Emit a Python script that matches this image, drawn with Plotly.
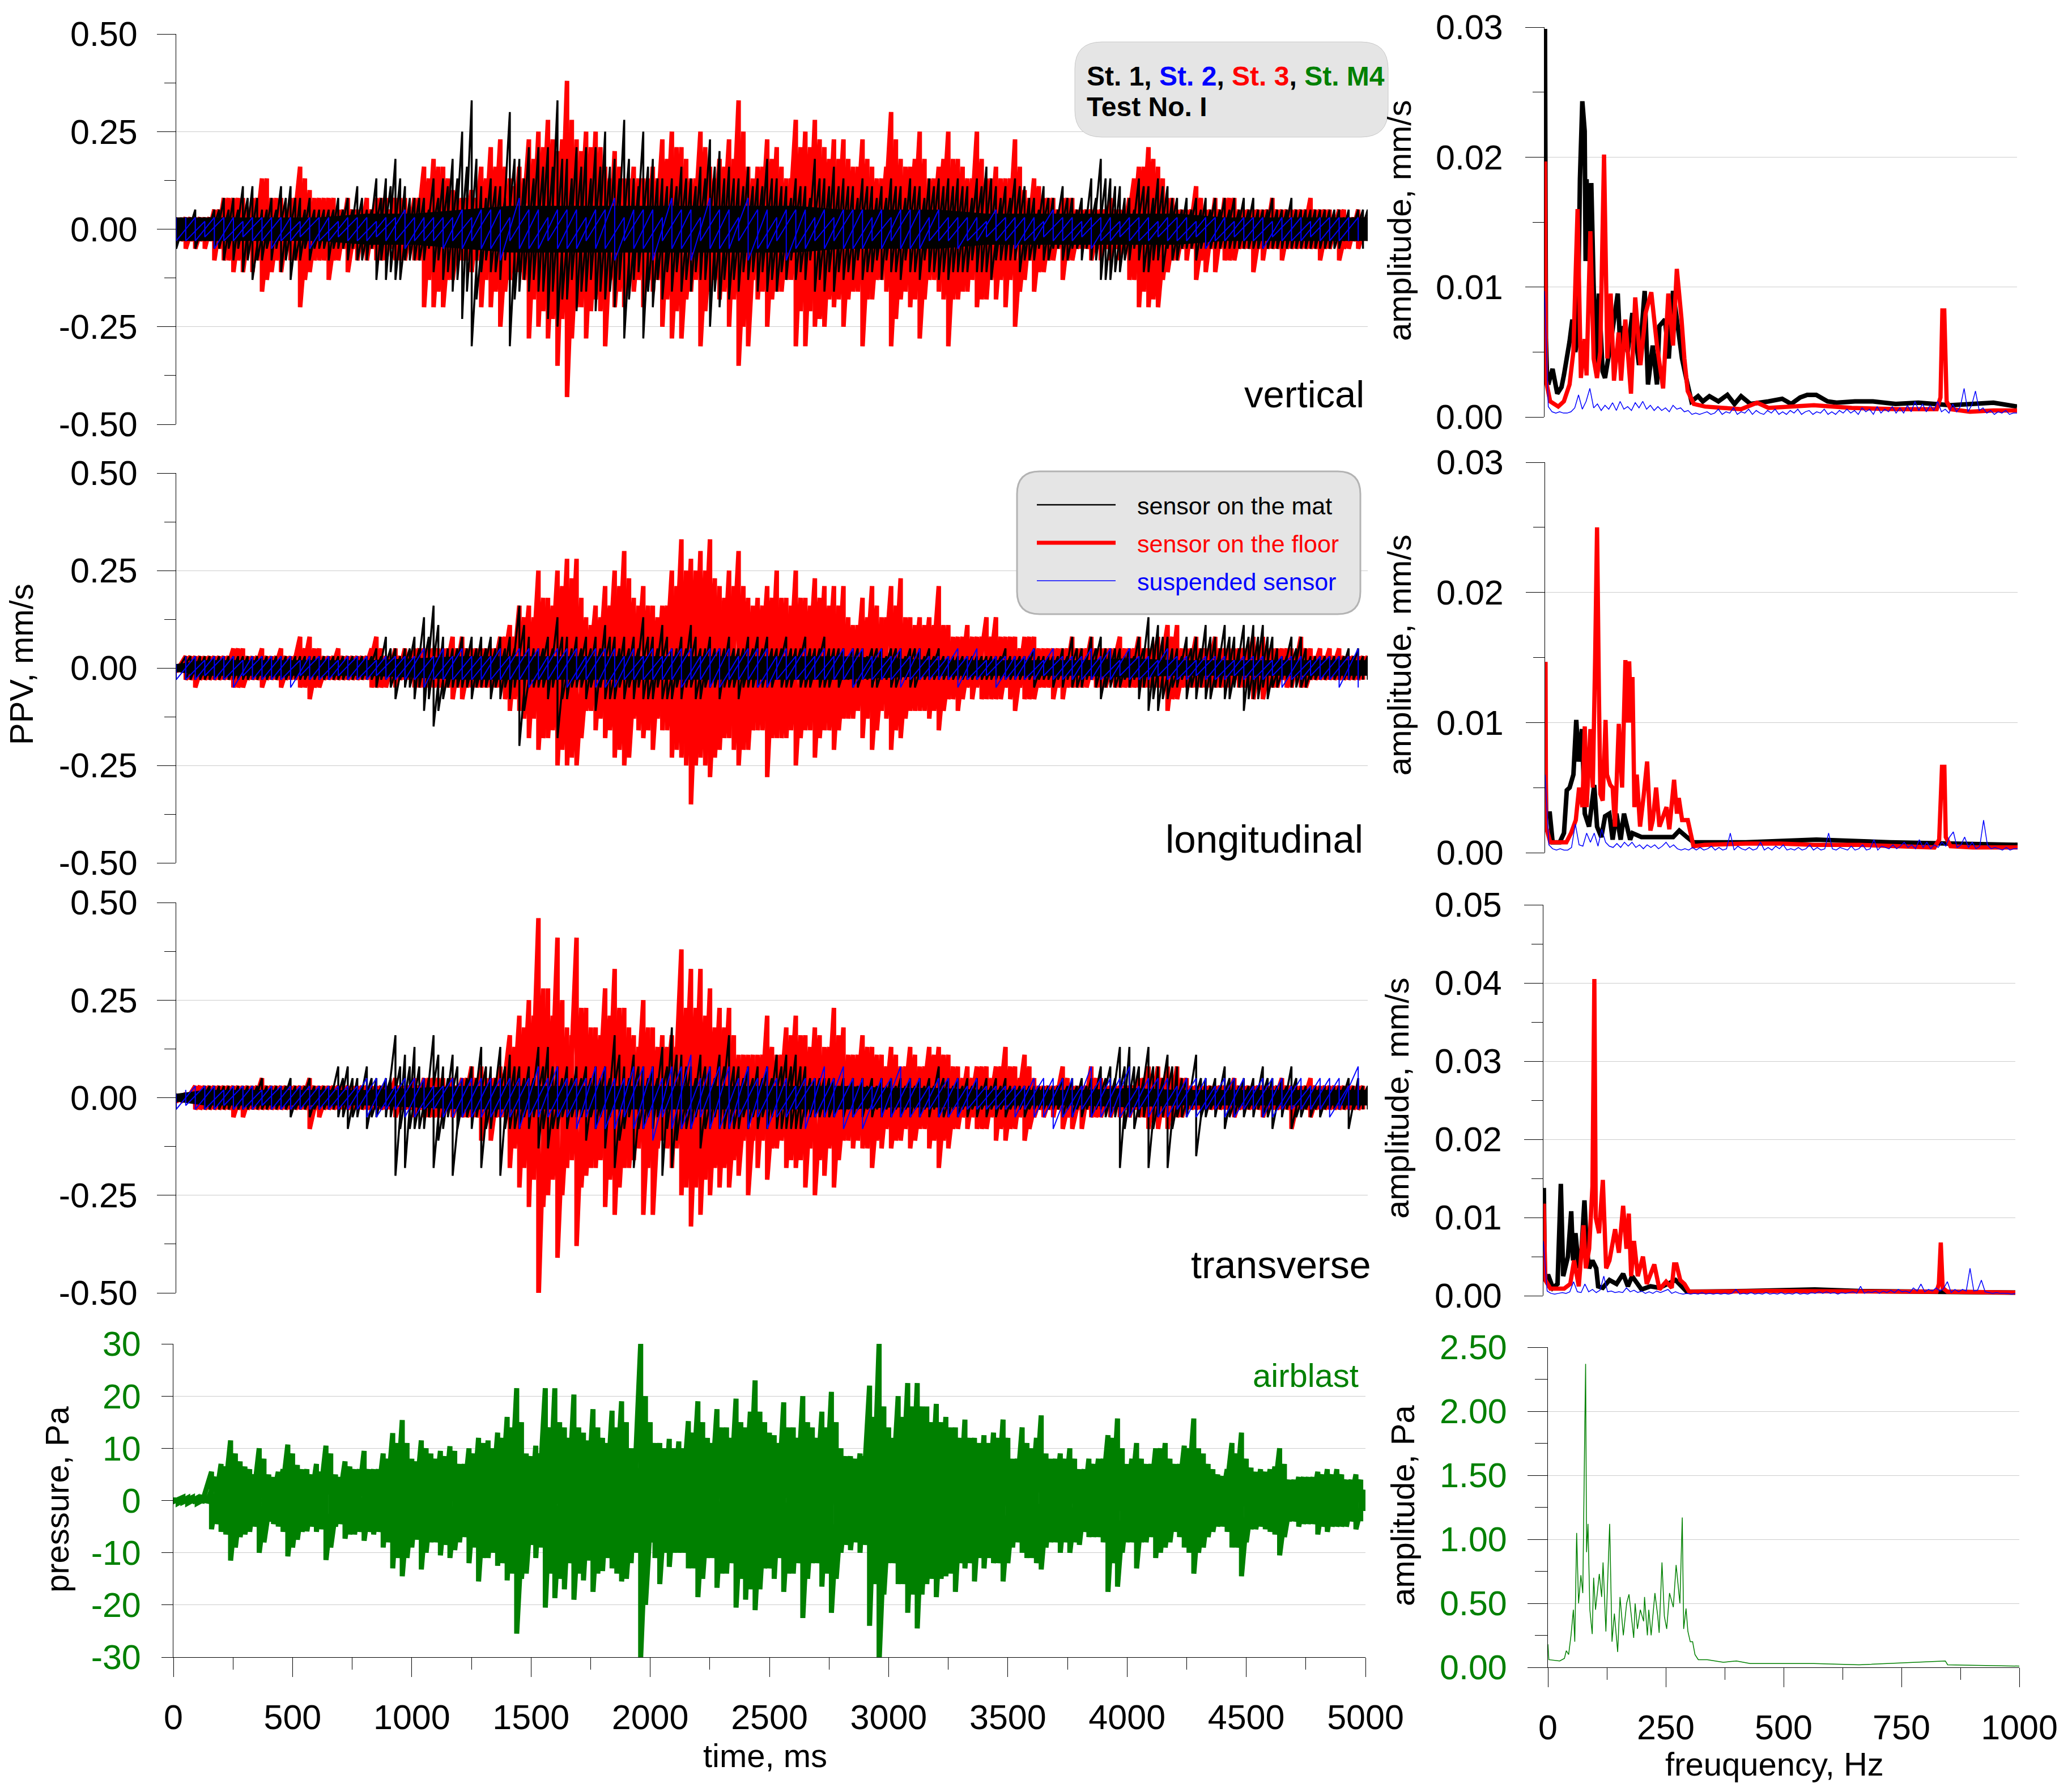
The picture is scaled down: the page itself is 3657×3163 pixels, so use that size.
import plotly.graph_objects as go

W, H = 3657, 3163

# time grids, ms
time_ms = list(range(0, 5001, 40))
mid_time_ms = list(range(20, 5000, 40))
blue_time_ms = list(range(0, 5000, 80))
blue_mid_time_ms = list(range(40, 4960, 80))
core_time_ms = [0, 120, 200, 400, 600, 800, 1000, 1200, 1400, 1600, 1800, 2000, 2200, 2400,
                2600, 2800, 3000, 3200, 3400, 3600, 3800, 4000, 4200, 4400, 4600, 4800, 5000]

# vertical component, peaks (mm/s)
vert_red_up = [.03, .03, .03, .03, .05, .08, .08, .08, .08, .13,
               .08, .08, .08, .16, .10, .08, .08, .05, .08, .05,
               .08, .08, .08, .08, .08, .08, .16, .18, .16, .10,
               .08, .10, .16, .21, .23, .13, .16, .23, .25, .28,
               .20, .38, .23, .25, .25, .16, .20, .13, .16, .13,
               .16, .23, .25, .21, .13, .25, .16, .18, .23, .33,
               .16, .16, .23, .21, .13, .28, .25, .28, .21, .23,
               .23, .16, .23, .16, .13, .30, .18, .16, .25, .13,
               .16, .25, .18, .13, .25, .13, .16, .13, .23, .10,
               .13, .08, .08, .08, .08, .05, .05, .05, .08, .05,
               .08, .16, .21, .16, .08, .05, .05, .11, .05, .08,
               .08, .08, .05, .05, .05, .08, .05, .05, .05, .08,
               .05, .05, .05, .03, .05, .03]
vert_red_low = [-.03, -.05, -.05, -.05, -.08, -.08, -.11, -.11, -.11, -.16,
                -.11, -.11, -.08, -.20, -.11, -.08, -.13, -.08, -.11, -.08,
                -.08, -.08, -.08, -.08, -.08, -.08, -.20, -.20, -.20, -.13,
                -.08, -.11, -.20, -.20, -.25, -.13, -.11, -.28, -.25, -.28,
                -.35, -.43, -.20, -.28, -.18, -.30, -.20, -.20, -.16, -.20,
                -.16, -.25, -.28, -.28, -.16, -.30, -.16, -.18, -.25, -.35,
                -.30, -.18, -.25, -.16, -.13, -.30, -.30, -.25, -.25, -.20,
                -.25, -.16, -.30, -.18, -.13, -.30, -.18, -.20, -.28, -.13,
                -.16, -.30, -.18, -.16, -.20, -.18, -.18, -.20, -.25, -.13,
                -.16, -.11, -.08, -.13, -.08, -.05, -.08, -.08, -.08, -.08,
                -.13, -.20, -.20, -.20, -.11, -.08, -.08, -.13, -.11, -.11,
                -.08, -.08, -.05, -.11, -.08, -.05, -.08, -.05, -.05, -.05,
                -.08, -.05, -.08, -.05, -.05, -.03]
vert_red_mid = [.03, .03, .03, .03, .05, .08, .08, .05, .08, .13,
                .08, .05, .08, .13, .08, .08, .08, .05, .05, .05,
                .05, .08, .05, .08, .05, .08, .13, .16, .13, .08,
                .08, .08, .13, .16, .16, .11, .13, .18, .21, .23,
                .23, .28, .20, .21, .21, .13, .16, .13, .13, .13,
                .13, .18, .21, .18, .13, .21, .13, .16, .18, .25,
                .13, .16, .18, .16, .13, .21, .21, .23, .18, .18,
                .18, .16, .18, .13, .16, .23, .16, .18, .18, .13,
                .18, .18, .16, .13, .18, .13, .13, .13, .16, .08,
                .11, .08, .05, .08, .05, .05, .05, .05, .05, .05,
                .13, .16, .18, .13, .08, .05, .05, .08, .05, .05,
                .08, .05, .05, .05, .05, .05, .05, .05, .05, .05,
                .05, .03, .05, .03, .03]
vert_black_up = [.03, .03, .05, .03, .05, .08, .08, .11, .11, .05,
                 .08, .11, .11, .08, .08, .05, .05, .08, .08, .11,
                 .05, .13, .13, .18, .11, .08, .08, .13, .13, .18,
                 .25, .33, .11, .13, .11, .30, .18, .21, .21, .21,
                 .33, .18, .21, .21, .21, .25, .18, .28, .13, .25,
                 .18, .13, .13, .16, .13, .16, .23, .20, .16, .13,
                 .16, .13, .18, .13, .11, .13, .11, .18, .13, .16,
                 .13, .11, .13, .11, .11, .13, .11, .13, .11, .13,
                 .13, .13, .13, .11, .13, .16, .11, .11, .13, .11,
                 .08, .11, .08, .11, .08, .08, .13, .18, .13, .11,
                 .08, .13, .11, .13, .11, .08, .08, .08, .08, .08,
                 .08, .08, .08, .08, .05, .08, .05, .08, .05, .05,
                 .05, .05, .05, .05, .05, .05]
vert_black_low = [-.05, -.03, -.05, -.03, -.05, -.08, -.08, -.11, -.13, -.08,
                  -.08, -.11, -.13, -.08, -.08, -.05, -.08, -.05, -.08, -.08,
                  -.08, -.13, -.13, -.13, -.08, -.08, -.08, -.11, -.13, -.16,
                  -.23, -.30, -.11, -.11, -.13, -.30, -.16, -.16, -.16, -.23,
                  -.25, -.18, -.21, -.16, -.21, -.18, -.20, -.28, -.13, -.28,
                  -.20, -.18, -.16, -.16, -.16, -.13, -.25, -.20, -.18, -.16,
                  -.13, -.16, -.16, -.16, -.13, -.13, -.13, -.16, -.16, -.16,
                  -.13, -.13, -.13, -.11, -.13, -.11, -.13, -.11, -.13, -.11,
                  -.13, -.13, -.11, -.11, -.11, -.11, -.08, -.08, -.08, -.08,
                  -.08, -.08, -.05, -.08, -.05, -.08, -.08, -.13, -.13, -.11,
                  -.08, -.08, -.11, -.08, -.05, -.08, -.05, -.08, -.05, -.05,
                  -.05, -.05, -.05, -.05, -.05, -.05, -.05, -.05, -.05, -.05,
                  -.05, -.05, -.05, -.03, -.03, -.03]
vert_black_mid = [.03, .03, .03, .03, .05, .05, .05, .08, .08, .05,
                  .05, .08, .08, .05, .05, .05, .05, .05, .05, .08,
                  .05, .08, .11, .13, .08, .08, .05, .08, .11, .13,
                  .16, .18, .08, .11, .08, .18, .13, .13, .16, .16,
                  .18, .13, .16, .13, .16, .16, .13, .18, .11, .16,
                  .13, .11, .11, .13, .11, .13, .16, .13, .13, .11,
                  .11, .11, .13, .11, .08, .11, .08, .13, .11, .11,
                  .11, .08, .11, .08, .08, .11, .08, .11, .08, .11,
                  .11, .11, .11, .08, .11, .13, .08, .08, .11, .08,
                  .05, .08, .05, .08, .05, .05, .08, .13, .11, .08,
                  .05, .11, .08, .11, .08, .05, .05, .05, .05, .05,
                  .05, .05, .05, .05, .05, .05, .05, .05, .05, .05,
                  .05, .05, .03, .03, .05]
vert_blue_up = [.03, .03, .03, .03, .03, .03, .03, .03, .03, .03,
                .03, .03, .05, .03, .03, .05, .05, .05, .08, .05,
                .05, .05, .05, .08, .05, .05, .08, .05, .08, .05,
                .08, .05, .05, .05, .05, .05, .05, .05, .05, .05,
                .05, .03, .03, .05, .03, .03, .05, .03, .03, .03,
                .03, .03, .03, .03, .03, .03, .03, .03, .03, .03,
                .03, .03, .03]
vert_blue_low = [-.03, -.03, -.05, -.03, -.03, -.05, -.03, -.05, -.03, -.03,
                 -.03, -.03, -.05, -.03, -.05, -.05, -.05, -.08, -.05, -.05,
                 -.05, -.05, -.05, -.08, -.05, -.08, -.05, -.08, -.05, -.05,
                 -.08, -.05, -.08, -.05, -.05, -.05, -.05, -.05, -.05, -.05,
                 -.03, -.05, -.03, -.03, -.05, -.03, -.03, -.03, -.05, -.03,
                 -.03, -.03, -.03, -.03, -.05, -.03, -.03, -.05, -.03, -.03,
                 -.03, -.03, -.03]
vert_blue_mid = [.03, .02, .03, .02, .03, .03, .02, .03, .02, .03, .02, .03, .03, .03, .03, .03,
                 .05, .03, .05, .03, .05, .03, .05, .03, .05, .03, .05, .03, .05, .03, .05, .03,
                 .05, .03, .03, .05, .03, .03, .05, .03, .03, .03, .02, .03, .03, .02, .03, .02,
                 .03, .02, .03, .02, .03, .02, .03, .02, .03, .02, .03, .02, .03, .03]
vert_black_core = [.03, .03, .03, .03, .03, .04, .04, .05, .06, .06, .06, .06, .06, .06,
                   .06, .05, .05, .05, .04, .04, .04, .04, .04, .03, .03, .03, .03]

# longitudinal component
long_red_up = [.01, .03, .03, .03, .03, .03, .05, .05, .03, .05,
               .03, .05, .03, .08, .08, .05, .03, .05, .03, .03,
               .03, .08, .03, .05, .05, .05, .05, .05, .05, .08,
               .08, .05, .05, .05, .08, .11, .16, .16, .25, .18,
               .25, .28, .28, .13, .16, .21, .25, .30, .18, .21,
               .16, .16, .25, .33, .28, .30, .33, .21, .25, .30,
               .18, .18, .21, .25, .18, .25, .18, .23, .21, .21,
               .21, .11, .18, .21, .13, .21, .23, .13, .13, .13,
               .21, .11, .08, .11, .08, .13, .13, .08, .08, .08,
               .08, .05, .05, .05, .08, .05, .08, .05, .05, .08,
               .05, .08, .05, .08, .11, .11, .05, .08, .05, .08,
               .05, .05, .05, .08, .08, .05, .05, .05, .08, .05,
               .05, .05, .05, .03, .03, .03]
long_red_low = [-.01, -.03, -.05, -.03, -.03, -.03, -.05, -.05, -.03, -.05,
                -.03, -.05, -.03, -.05, -.08, -.05, -.03, -.03, -.03, -.03,
                -.03, -.05, -.05, -.05, -.03, -.05, -.05, -.05, -.05, -.08,
                -.08, -.05, -.05, -.05, -.05, -.11, -.11, -.18, -.21, -.18,
                -.25, -.25, -.25, -.11, -.16, -.18, -.23, -.25, -.13, -.18,
                -.21, -.16, -.23, -.23, -.35, -.23, -.28, -.21, -.18, -.25,
                -.21, -.16, -.28, -.18, -.18, -.25, -.16, -.23, -.16, -.21,
                -.13, -.13, -.18, -.21, -.11, -.21, -.18, -.11, -.11, -.13,
                -.16, -.08, -.11, -.05, -.05, -.08, -.08, -.05, -.11, -.08,
                -.08, -.05, -.08, -.08, -.05, -.05, -.03, -.05, -.03, -.05,
                -.05, -.05, -.05, -.05, -.11, -.08, -.05, -.05, -.05, -.05,
                -.05, -.03, -.05, -.08, -.08, -.05, -.03, -.05, -.05, -.03,
                -.03, -.03, -.03, -.03, -.03, -.01]
long_red_mid = [.01, .03, .03, .03, .03, .03, .05, .03, .03, .03,
                .03, .03, .03, .05, .05, .03, .03, .03, .03, .03,
                .05, .05, .03, .03, .03, .05, .05, .05, .05, .05,
                .05, .05, .05, .05, .08, .08, .13, .13, .18, .16,
                .21, .23, .18, .11, .13, .16, .21, .23, .16, .16,
                .13, .16, .21, .25, .25, .25, .23, .18, .21, .21,
                .16, .16, .18, .18, .16, .18, .16, .18, .16, .16,
                .13, .11, .13, .16, .13, .16, .13, .11, .11, .11,
                .11, .08, .08, .08, .08, .08, .08, .08, .05, .08,
                .05, .05, .05, .05, .05, .05, .05, .05, .05, .05,
                .05, .05, .05, .05, .08, .05, .05, .05, .05, .05,
                .05, .05, .05, .05, .05, .05, .05, .03, .05, .03,
                .03, .03, .03, .03, .03]
long_black_up = [.01, .03, .03, .03, .03, .03, .03, .03, .03, .03,
                 .03, .03, .03, .03, .03, .03, .03, .03, .03, .03,
                 .03, .05, .08, .05, .05, .08, .13, .16, .08, .05,
                 .08, .08, .08, .08, .08, .08, .16, .08, .05, .08,
                 .13, .08, .08, .08, .08, .11, .08, .08, .08, .13,
                 .08, .11, .05, .08, .11, .05, .08, .05, .08, .05,
                 .08, .08, .08, .05, .08, .05, .08, .05, .08, .05,
                 .05, .05, .05, .05, .05, .05, .05, .05, .05, .05,
                 .05, .03, .03, .03, .03, .03, .03, .05, .03, .03,
                 .05, .03, .03, .05, .08, .05, .08, .08, .05, .05,
                 .05, .08, .13, .11, .08, .05, .08, .08, .11, .08,
                 .11, .08, .11, .11, .11, .08, .03, .08, .08, .03,
                 .03, .03, .03, .05, .05, .03]
long_black_low = [-.01, -.03, -.03, -.03, -.03, -.03, -.03, -.03, -.03, -.03,
                  -.03, -.03, -.03, -.03, -.03, -.03, -.03, -.03, -.03, -.03,
                  -.03, -.05, -.03, -.08, -.05, -.08, -.11, -.15, -.08, -.05,
                  -.05, -.08, -.05, -.08, -.08, -.08, -.20, -.05, -.05, -.08,
                  -.18, -.08, -.05, -.08, -.11, -.08, -.08, -.08, -.08, -.08,
                  -.08, -.08, -.08, -.08, -.05, -.08, -.05, -.08, -.05, -.08,
                  -.05, -.05, -.05, -.03, -.05, -.03, -.05, -.03, -.05, -.03,
                  -.03, -.05, -.03, -.05, -.03, -.05, -.03, -.05, -.03, -.03,
                  -.03, -.03, -.03, -.03, -.03, -.03, -.03, -.03, -.03, -.03,
                  -.05, -.03, -.05, -.05, -.05, -.05, -.03, -.08, -.05, -.05,
                  -.05, -.08, -.11, -.11, -.08, -.05, -.08, -.08, -.08, -.05,
                  -.08, -.05, -.11, -.08, -.05, -.05, -.03, -.05, -.05, -.03,
                  -.03, -.03, -.03, -.03, -.03, -.03]
long_black_mid = [.01, .03, .03, .03, .03, .03, .03, .03, .03, .03,
                  .03, .03, .03, .03, .03, .03, .03, .03, .03, .03,
                  .03, .03, .05, .03, .05, .05, .08, .11, .05, .05,
                  .05, .05, .05, .05, .05, .05, .11, .05, .05, .05,
                  .08, .05, .05, .05, .05, .08, .05, .05, .05, .08,
                  .05, .08, .05, .05, .08, .05, .05, .05, .05, .05,
                  .05, .05, .05, .05, .05, .05, .05, .05, .05, .05,
                  .03, .05, .03, .05, .03, .05, .03, .05, .03, .03,
                  .03, .03, .03, .03, .03, .03, .03, .03, .03, .03,
                  .03, .03, .03, .03, .05, .03, .05, .05, .05, .03,
                  .03, .05, .08, .08, .05, .03, .05, .05, .08, .05,
                  .08, .05, .08, .08, .08, .05, .03, .05, .05, .03,
                  .03, .03, .03, .03, .03]
long_blue_up = [.01, .03, .03, .03, .03, .03, .03, .03, .03, .03,
                .03, .03, .03, .05, .05, .05, .03, .05, .05, .05,
                .05, .05, .05, .05, .05, .05, .05, .05, .05, .05,
                .05, .05, .05, .05, .05, .05, .05, .05, .05, .05,
                .03, .05, .05, .03, .03, .05, .05, .03, .05, .05,
                .05, .03, .05, .03, .03, .03, .03, .03, .03, .03,
                .03, .03, .05]
long_blue_low = [-.03, -.03, -.03, -.05, -.03, -.03, -.05, -.03, -.03, -.03,
                 -.03, -.03, -.03, -.05, -.03, -.03, -.03, -.03, -.03, -.03,
                 -.03, -.03, -.05, -.05, -.03, -.03, -.03, -.03, -.05, -.03,
                 -.03, -.05, -.03, -.03, -.03, -.03, -.03, -.03, -.05, -.03,
                 -.03, -.05, -.03, -.05, -.03, -.03, -.03, -.03, -.03, -.03,
                 -.03, -.03, -.03, -.03, -.03, -.03, -.03, -.03, -.05, -.03,
                 -.03, -.05, -.05]
long_blue_mid = [.03, .02, .03, .02, .03, .03, .02, .03, .02, .03, .02, .03, .03, .03, .03, .03,
                 .03, .03, .05, .03, .05, .03, .05, .03, .03, .03, .05, .03, .05, .03, .05, .03,
                 .03, .03, .03, .05, .03, .03, .03, .03, .03, .03, .02, .03, .03, .02, .03, .03,
                 .03, .02, .03, .02, .03, .02, .03, .02, .03, .02, .03, .02, .03, .03]
long_black_core = [.01, .02, .02, .02, .02, .02, .025, .03, .03, .03, .03, .03, .03, .03,
                   .03, .03, .025, .02, .02, .02, .02, .025, .02, .02, .02, .02, .02]

# transverse component
trans_red_up = [.01, .01, .03, .03, .03, .03, .03, .03, .03, .05,
                .03, .03, .03, .03, .05, .03, .03, .03, .03, .03,
                .03, .03, .03, .05, .03, .05, .05, .05, .05, .05,
                .05, .08, .08, .05, .08, .16, .21, .25, .46, .28,
                .41, .18, .41, .23, .18, .28, .33, .23, .16, .25,
                .18, .16, .16, .38, .33, .33, .28, .23, .23, .11,
                .11, .11, .21, .11, .18, .21, .16, .18, .13, .23,
                .18, .11, .16, .13, .11, .13, .08, .13, .08, .13,
                .13, .11, .08, .08, .08, .08, .08, .13, .08, .11,
                .05, .03, .03, .08, .03, .03, .08, .05, .03, .03,
                .03, .05, .08, .08, .08, .08, .05, .03, .03, .03,
                .03, .05, .03, .03, .03, .03, .05, .03, .03, .05,
                .03, .03, .03, .03, .03, .01]
trans_red_low = [-.01, -.01, -.03, -.03, -.03, -.03, -.05, -.05, -.03, -.03,
                 -.03, -.03, -.03, -.03, -.08, -.05, -.03, -.03, -.03, -.03,
                 -.03, -.03, -.03, -.05, -.03, -.05, -.05, -.05, -.05, -.05,
                 -.05, -.05, -.11, -.11, -.05, -.18, -.23, -.28, -.53, -.25,
                 -.41, -.18, -.38, -.20, -.18, -.28, -.30, -.18, -.16, -.30,
                 -.30, -.11, -.18, -.25, -.33, -.30, -.25, -.23, -.23, -.20,
                 -.25, -.18, -.21, -.13, -.18, -.18, -.23, -.25, -.20, -.23,
                 -.11, -.13, -.13, -.18, -.13, -.13, -.11, -.13, -.08, -.13,
                 -.18, -.13, -.08, -.08, -.08, -.08, -.11, -.11, -.08, -.11,
                 -.05, -.05, -.05, -.08, -.08, -.08, -.05, -.05, -.05, -.05,
                 -.05, -.05, -.08, -.08, -.08, -.05, -.03, -.03, -.03, -.03,
                 -.03, -.05, -.03, -.03, -.05, -.03, -.03, -.08, -.03, -.05,
                 -.03, -.03, -.03, -.03, -.03, -.01]
trans_red_mid = [.01, .01, .03, .03, .03, .03, .03, .03, .03, .03,
                 .03, .03, .03, .03, .03, .03, .03, .03, .03, .03,
                 .03, .03, .03, .03, .03, .03, .05, .05, .03, .03,
                 .05, .05, .05, .05, .05, .13, .18, .21, .28, .21,
                 .25, .16, .23, .18, .16, .21, .23, .18, .13, .18,
                 .13, .13, .13, .23, .23, .21, .18, .18, .16, .11,
                 .11, .11, .13, .11, .16, .16, .13, .16, .13, .16,
                 .11, .11, .13, .11, .08, .11, .08, .11, .08, .11,
                 .11, .08, .05, .05, .08, .05, .08, .08, .05, .08,
                 .03, .03, .03, .05, .03, .03, .05, .03, .03, .03,
                 .03, .05, .05, .05, .05, .05, .03, .03, .03, .03,
                 .03, .03, .03, .03, .03, .03, .03, .03, .03, .03,
                 .03, .03, .03, .03, .03]
trans_black_up = [.01, .01, .01, .03, .03, .03, .03, .03, .03, .05,
                  .03, .03, .05, .03, .05, .03, .03, .08, .08, .05,
                  .08, .05, .05, .16, .11, .13, .05, .16, .08, .11,
                  .05, .08, .13, .08, .13, .11, .08, .08, .13, .13,
                  .08, .08, .08, .08, .08, .08, .16, .08, .11, .08,
                  .08, .13, .18, .11, .08, .11, .08, .11, .16, .08,
                  .08, .08, .08, .11, .11, .11, .08, .05, .05, .05,
                  .05, .05, .05, .05, .05, .05, .05, .05, .05, .05,
                  .08, .05, .05, .05, .05, .05, .05, .05, .03, .03,
                  .03, .03, .03, .05, .05, .05, .05, .08, .08, .13,
                  .13, .08, .13, .08, .11, .08, .05, .11, .05, .05,
                  .08, .05, .05, .05, .08, .05, .05, .08, .03, .03,
                  .03, .03, .03, .05, .05, .03]
trans_black_low = [-.01, -.01, -.01, -.03, -.03, -.03, -.03, -.03, -.03, -.03,
                   -.03, -.03, -.05, -.03, -.05, -.03, -.03, -.05, -.08, -.05,
                   -.08, -.05, -.05, -.20, -.18, -.08, -.08, -.18, -.08, -.20,
                   -.05, -.08, -.18, -.08, -.20, -.08, -.08, -.08, -.13, -.13,
                   -.08, -.08, -.05, -.11, -.08, -.13, -.18, -.08, -.18, -.08,
                   -.08, -.20, -.18, -.08, -.08, -.13, -.08, -.08, -.08, -.08,
                   -.08, -.08, -.08, -.08, -.08, -.08, -.05, -.05, -.05, -.05,
                   -.05, -.05, -.05, -.05, -.05, -.05, -.05, -.05, -.05, -.05,
                   -.05, -.05, -.05, -.05, -.05, -.05, -.05, -.05, -.03, -.05,
                   -.03, -.03, -.03, -.05, -.05, -.05, -.05, -.03, -.05, -.18,
                   -.05, -.05, -.18, -.05, -.18, -.05, -.05, -.15, -.05, -.05,
                   -.08, -.05, -.05, -.05, -.05, -.08, -.05, -.08, -.05, -.05,
                   -.05, -.03, -.03, -.08, -.03, -.03]
trans_black_mid = [.01, .01, .01, .03, .03, .03, .03, .03, .03, .03,
                   .03, .03, .03, .03, .03, .03, .03, .05, .05, .03,
                   .05, .03, .05, .08, .08, .08, .05, .11, .05, .08,
                   .05, .05, .08, .05, .08, .08, .05, .05, .08, .08,
                   .05, .05, .05, .05, .05, .05, .11, .05, .08, .05,
                   .05, .08, .11, .08, .05, .08, .05, .08, .08, .05,
                   .05, .05, .05, .08, .08, .08, .05, .05, .05, .03,
                   .03, .03, .03, .03, .03, .03, .03, .03, .03, .03,
                   .05, .03, .03, .03, .03, .03, .03, .03, .03, .03,
                   .03, .03, .03, .03, .03, .03, .03, .05, .05, .08,
                   .08, .05, .08, .05, .08, .05, .03, .05, .03, .03,
                   .05, .03, .03, .03, .05, .03, .03, .05, .03, .03,
                   .03, .03, .03, .03, .03]
trans_blue_up = [.01, .03, .03, .03, .03, .03, .03, .03, .03, .03,
                 .05, .05, .05, .05, .03, .05, .05, .05, .05, .08,
                 .08, .05, .08, .05, .08, .08, .08, .11, .08, .08,
                 .08, .08, .05, .05, .08, .08, .05, .05, .08, .05,
                 .05, .05, .05, .03, .03, .05, .05, .05, .08, .05,
                 .08, .05, .05, .05, .05, .05, .05, .05, .05, .05,
                 .05, .05, .08]
trans_blue_low = [-.03, -.03, -.03, -.03, -.03, -.03, -.03, -.03, -.03, -.03,
                  -.05, -.03, -.05, -.03, -.05, -.05, -.05, -.05, -.08, -.05,
                  -.05, -.08, -.08, -.08, -.08, -.11, -.08, -.08, -.08, -.08,
                  -.08, -.08, -.05, -.08, -.05, -.08, -.08, -.05, -.05, -.05,
                  -.05, -.05, -.03, -.03, -.05, -.05, -.08, -.05, -.05, -.05,
                  -.05, -.05, -.05, -.05, -.03, -.05, -.03, -.05, -.03, -.03,
                  -.03, -.03, -.03]
trans_blue_mid = [.02, .03, .02, .03, .02, .03, .03, .03, .03, .03, .05, .03, .05, .03, .05, .05,
                  .05, .05, .05, .05, .05, .05, .08, .05, .08, .05, .08, .05, .08, .05, .05, .05,
                  .03, .05, .05, .05, .03, .05, .05, .03, .05, .03, .03, .03, .03, .05, .05, .03,
                  .05, .05, .03, .05, .03, .05, .03, .05, .03, .05, .03, .03, .05, .03]
trans_black_core = [.01, .02, .02, .02, .02, .02, .025, .03, .03, .03, .03, .03, .03, .03,
                    .03, .03, .025, .025, .02, .02, .02, .025, .02, .02, .02, .02, .02]

# airblast, Pa
air_up = [.6, .6, .6, .8, 5.5, 7, 11.5, 7.5, 6, 10,
          5, 5.5, 10.7, 6.8, 6, 7, 10.5, 5, 7.5, 6,
          9.5, 6, 9, 12.9, 15.4, 8, 11.5, 9, 9.5, 10.4,
          7, 10, 12, 11.5, 13, 16, 21.5, 9, 10.5, 21.5,
          21.5, 14, 20.3, 13, 17.5, 12, 17.2, 19, 10, 30,
          15, 11, 11.8, 11.3, 15.2, 19, 12, 17.5, 14, 19.5,
          14, 23, 15, 12.5, 18.8, 14, 20, 14, 17, 20.8,
          10, 8.5, 9, 22, 30, 14, 20, 22.5, 22.5, 18,
          18.5, 16, 14, 15.5, 12, 12.5, 13, 15.5, 8, 14,
          10, 16.3, 8, 9, 10, 6, 8, 8, 12.5, 15.7,
          7, 11, 7, 10, 11, 7, 10.5, 15.7, 9, 6,
          4.7, 11, 13, 6.3, 6, 6, 10, 4, 4.5, 4.5,
          5.5, 6, 6, 4, 5, 2]
air_low = [-.2, -.3, -.3, -.5, -5.5, -6, -11.5, -7, -6, -10,
           -4, -5, -10.7, -7.5, -5.9, -6, -11.4, -5, -7.3, -6.5,
           -7.7, -6.5, -9, -13, -14.5, -9, -13.2, -8, -10.5, -11,
           -8, -12, -15.5, -11, -12.5, -15.3, -25.5, -14, -11, -20.5,
           -18.7, -17, -19, -15.3, -17.5, -13.5, -13, -15.5, -12, -30,
           -8, -16, -12.7, -10, -13, -18.5, -11, -16.7, -14, -20.5,
           -19, -21, -13, -15, -17.5, -14, -22.5, -12, -16.5, -21.5,
           -10, -9.5, -10, -24, -31, -12, -16, -21.5, -24.5, -16,
           -18.5, -14.5, -17.5, -13, -15.5, -13, -12, -15.5, -9, -10,
           -11, -13.2, -8, -10, -10, -8.5, -7, -7, -17.5, -16.5,
           -8, -13, -8, -11, -9, -6, -9, -14, -9, -6,
           -5, -9, -14.5, -5.5, -5, -6, -10.5, -4, -5, -4.5,
           -6.5, -6, -5, -5, -5.5, -2]
air_mid = [.5, .5, .5, .5, 4.5, 6.5, 9, 6.5, 5, 8,
           4.5, 6, 9, 6, 5, 5.5, 9, 4.5, 6.5, 6,
           6, 6, 8, 11, 11, 7.5, 10, 8, 8.5, 9.5,
           7, 9, 11, 10, 12, 14, 15, 8.5, 9, 14,
           15, 12, 14, 11.5, 14, 11, 14, 15, 10, 20,
           11, 10, 10, 10, 13, 15, 11, 14, 12, 15,
           17, 17, 13, 11, 14, 12, 15, 12, 14, 15,
           8.5, 8, 8.5, 16, 18, 12, 16, 18, 18, 15,
           15, 14, 12, 12, 11, 11, 12, 12, 8, 11,
           12, 9, 8, 8, 8, 6, 7, 8, 12, 10,
           8, 8, 7, 10, 8, 7, 10, 10, 7, 5,
           6, 9, 8, 5.5, 5.5, 6.5, 7, 4, 4.5, 4.5,
           5, 5, 5, 4, 4]

# spectra, mm/s against Hz
spec_blue_f = list(range(0, 1001, 8))
spec_v_black_f = [0, 1, 3, 5, 8, 17, 27, 36, 41, 53, 59, 65, 70, 75, 80, 85, 87, 89, 94, 99, 104, 109, 115, 123, 128,
                  138, 155, 162, 168, 176, 186, 200, 212, 219, 229, 238, 243, 255, 263, 272, 282, 291, 301, 311, 325,
                  335, 349, 368, 387, 402, 416, 436, 474, 503, 522, 541, 556, 575, 599, 618, 657, 695, 743, 791, 859,
                  950, 1000]
spec_v_black = [.0297, .0297, .0060, .0035, .0025, .0037, .0018, .0023, .0032, .0058, .0075, .0050, .0060, .0183,
                .0243, .0220, .0120, .0183, .0120, .0180, .0100, .0040, .0095, .0035, .0030, .0052, .0095, .0040,
                .0070, .0050, .0080, .0040, .0097, .0025, .0055, .0025, .0070, .0075, .0045, .0097, .0070, .0045,
                .0028, .0012, .0016, .0012, .0016, .0012, .0017, .0010, .0016, .0010, .0012, .0014, .0010, .0015,
                .0017, .0017, .0012, .0011, .0012, .0012, .0010, .0011, .0009, .0011, .0008]
spec_v_red_f = [0, 1, 3, 12, 29, 41, 53, 61, 70, 77, 85, 89, 97, 104, 111, 118, 126, 133, 140, 147, 157, 162, 171, 183,
                192, 203, 214, 226, 238, 251, 262, 272, 280, 290, 296, 303, 316, 340, 378, 416, 450, 474, 570, 650,
                750, 830, 838, 842, 846, 851, 860, 900, 950, 1000]
spec_v_red = [.0195, .0195, .0028, .0012, .0008, .0012, .0025, .0050, .0160, .0030, .0060, .0032, .0143, .0045,
              .0030, .0050, .0202, .0045, .0095, .0028, .0065, .0028, .0075, .0018, .0092, .0040, .0080, .0096,
              .0055, .0022, .0095, .0055, .0114, .0075, .0045, .0020, .0010, .0008, .0007, .0006, .0011, .0007,
              .0009, .0007, .0006, .0006, .0015, .0082, .0082, .0012, .0006, .0004, .0005, .0005]
spec_v_blue = [.0097, .0008, .0004, .0003, .0004, .0003, .0003, .0004, .0007, .0017,
               .0006, .0012, .0022, .0007, .0010, .0005, .0009, .0006, .0011, .0005,
               .0012, .0006, .0008, .0005, .0011, .0007, .0012, .0006, .0009, .0005,
               .0008, .0005, .0007, .0004, .0009, .0006, .0007, .0004, .0005, .0002,
               .0003, .0002, .0003, .0004, .0002, .0003, .0006, .0002, .0004, .0003,
               .0007, .0002, .0004, .0003, .0006, .0002, .0005, .0003, .0002, .0005,
               .0003, .0006, .0002, .0004, .0002, .0005, .0003, .0006, .0002, .0004,
               .0005, .0002, .0004, .0003, .0006, .0002, .0004, .0002, .0005, .0003,
               .0006, .0003, .0005, .0002, .0007, .0004, .0006, .0002, .0008, .0003,
               .0006, .0004, .0008, .0003, .0007, .0003, .0009, .0004, .0012, .0005,
               .0010, .0004, .0009, .0005, .0012, .0004, .0006, .0003, .0010, .0004,
               .0008, .0022, .0004, .0009, .0020, .0005, .0007, .0003, .0005, .0002,
               .0004, .0003, .0005, .0002, .0003, .0003]

spec_l_black_f = [0, 2, 10, 16, 31, 40, 46, 52, 60, 66, 71, 78, 84, 93, 104, 110, 119, 127, 136, 143, 151, 160, 167,
                  180, 185, 204, 223, 242, 271, 284, 300, 314, 425, 574, 730, 1000]
spec_l_black = [.0090, .0030, .0030, .0008, .0008, .0015, .0048, .0050, .0060, .0102, .0070, .0095, .0030, .0020,
                .0052, .0020, .0012, .0028, .0030, .0010, .0030, .0010, .0030, .0010, .0015, .0012, .0012, .0012,
                .0012, .0017, .0012, .0008, .0008, .0010, .0008, .0006]
spec_l_red_f = [0, 1, 2, 11, 45, 55, 65, 72, 79, 84, 88, 96, 101, 106, 110, 114, 117, 122, 128, 131, 138, 143, 148,
                156, 163, 170, 175, 178, 182, 185, 189, 194, 201, 209, 216, 223, 228, 235, 242, 257, 263, 273, 279,
                283, 290, 302, 314, 338, 425, 497, 570, 665, 824, 834, 840, 845, 848, 858, 905, 1000]
spec_l_red = [.0145, .0145, .0020, .0008, .0008, .0015, .0025, .0050, .0035, .0097, .0035, .0095, .0050, .0150,
              .0250, .0120, .0045, .0040, .0102, .0060, .0052, .0050, .0020, .0099, .0050, .0148, .0100, .0147,
              .0100, .0135, .0035, .0060, .0020, .0045, .0070, .0017, .0025, .0050, .0020, .0035, .0018, .0056,
              .0030, .0042, .0025, .0025, .0005, .0006, .0007, .0007, .0006, .0006, .0004, .0010, .0066, .0066,
              .0012, .0005, .0004, .0004]
spec_l_blue = [.0060, .0006, .0003, .0002, .0003, .0002, .0002, .0004, .0022, .0006,
               .0005, .0015, .0008, .0015, .0005, .0018, .0008, .0005, .0004, .0007,
               .0004, .0008, .0005, .0008, .0004, .0006, .0003, .0006, .0004, .0006,
               .0003, .0005, .0008, .0004, .0006, .0003, .0002, .0003, .0002, .0004,
               .0002, .0004, .0002, .0003, .0005, .0002, .0004, .0002, .0003, .0015,
               .0002, .0005, .0003, .0002, .0004, .0002, .0003, .0008, .0002, .0004,
               .0002, .0005, .0003, .0006, .0002, .0003, .0002, .0004, .0002, .0003,
               .0006, .0002, .0004, .0002, .0003, .0015, .0003, .0002, .0004, .0003,
               .0002, .0005, .0002, .0003, .0006, .0002, .0003, .0010, .0002, .0005,
               .0004, .0003, .0006, .0003, .0005, .0008, .0004, .0006, .0003, .0010,
               .0004, .0008, .0003, .0006, .0004, .0008, .0005, .0012, .0016, .0004,
               .0006, .0012, .0004, .0008, .0003, .0005, .0025, .0006, .0003, .0004,
               .0003, .0002, .0004, .0002, .0003, .0003]

spec_t_black_f = [0, 1, 3, 11, 20, 30, 37, 42, 52, 59, 63, 68, 75, 81, 87, 92, 97, 104, 112, 116, 126, 140, 155, 169,
                  179, 188, 208, 227, 246, 280, 304, 430, 575, 670, 1000]
spec_t_black = [.0135, .0135, .0025, .0025, .0010, .0015, .0143, .0025, .0050, .0108, .0045, .0080, .0035, .0060,
                .0122, .0060, .0035, .0045, .0035, .0012, .0010, .0020, .0015, .0028, .0012, .0025, .0008, .0012,
                .0010, .0020, .0005, .0006, .0008, .0006, .0004]
spec_t_red_f = [0, 1, 4, 15, 44, 57, 65, 75, 85, 90, 97, 104, 108, 111, 118, 126, 133, 140, 152, 160, 169, 176, 181,
                186, 192, 200, 211, 219, 235, 246, 260, 272, 277, 282, 290, 299, 309, 477, 833, 838, 842, 846, 856,
                1000]
spec_t_red = [.0115, .0115, .0020, .0009, .0009, .0015, .0045, .0012, .0090, .0035, .0060, .0140, .0405, .0100,
              .0080, .0148, .0035, .0045, .0085, .0055, .0115, .0060, .0105, .0025, .0070, .0025, .0050, .0015,
              .0040, .0008, .0018, .0010, .0040, .0040, .0020, .0015, .0005, .0006, .0005, .0015, .0068, .0010,
              .0005, .0004]
spec_t_blue = [.0070, .0006, .0003, .0002, .0003, .0004, .0003, .0005, .0018, .0005,
               .0004, .0015, .0005, .0008, .0004, .0007, .0025, .0005, .0006, .0004,
               .0005, .0004, .0010, .0005, .0007, .0004, .0006, .0003, .0005, .0003,
               .0006, .0004, .0006, .0008, .0003, .0005, .0003, .0002, .0003, .0002,
               .0003, .0002, .0004, .0002, .0003, .0002, .0003, .0002, .0003, .0002,
               .0003, .0008, .0002, .0003, .0002, .0004, .0002, .0003, .0002, .0004,
               .0002, .0003, .0002, .0004, .0002, .0003, .0002, .0004, .0002, .0003,
               .0002, .0004, .0003, .0005, .0003, .0005, .0003, .0004, .0002, .0004,
               .0003, .0004, .0005, .0003, .0012, .0003, .0005, .0004, .0006, .0003,
               .0006, .0004, .0007, .0004, .0008, .0005, .0006, .0004, .0010, .0006,
               .0015, .0005, .0008, .0006, .0010, .0006, .0009, .0018, .0004, .0008,
               .0005, .0008, .0006, .0035, .0006, .0007, .0020, .0005, .0004, .0003,
               .0004, .0003, .0003, .0003, .0002, .0003]

spec_air_f = [0, 2, 25, 35, 39, 44, 49, 54, 57, 61, 65, 70, 74, 78, 80, 82, 85, 89, 94, 97, 101, 109, 114, 117, 123,
              131, 136, 141, 148, 153, 160, 167, 172, 182, 185, 190, 196, 203, 205, 211, 214, 219, 227, 233, 236, 242,
              247, 252, 258, 266, 272, 280, 285, 288, 293, 297, 302, 307, 312, 319, 338, 372, 400, 429, 467, 564,
              660, 843, 848, 1000]
spec_air = [.18, .06, .05, .07, .13, .10, .25, .45, .20, 1.05, .50, .72, .58, 1.80, 2.37, .90, 1.12, .45, .26, .70,
            .45, .73, .55, .82, .28, 1.12, .20, .42, .12, .55, .25, .50, .57, .23, .50, .30, .45, .36, .55, .25, .45,
            .25, .58, .40, .27, .82, .40, .30, .58, .47, .80, .50, 1.17, .30, .46, .28, .20, .20, .10, .06, .06, .04,
            .05, .03, .03, .03, .02, .05, .02, .01]

ppv_ticks = [0.5, 0.25, 0, -0.25, -0.5]
ppv_labels = ["0.50", "0.25", "0.00", "-0.25", "-0.50"]
ppv_minor = [0.375, 0.125, -0.125, -0.375]
air_ticks = [30, 20, 10, 0, -10, -20, -30]
air_labels = ["30", "20", "10", "0", "-10", "-20", "-30"]
time_ticks = [0, 500, 1000, 1500, 2000, 2500, 3000, 3500, 4000, 4500, 5000]
time_minor = [250, 750, 1250, 1750, 2250, 2750, 3250, 3750, 4250, 4750]
freq_ticks = [0, 250, 500, 750, 1000]
freq_minor = [125, 375, 625, 875]
amp3_ticks = [0, 0.01, 0.02, 0.03]
amp3_labels = ["0.00", "0.01", "0.02", "0.03"]
amp3_minor = [0.005, 0.015, 0.025]
amp5_ticks = [0, 0.01, 0.02, 0.03, 0.04, 0.05]
amp5_labels = ["0.00", "0.01", "0.02", "0.03", "0.04", "0.05"]
amp5_minor = [0.005, 0.015, 0.025, 0.035, 0.045]
pa_ticks = [0, 0.5, 1, 1.5, 2, 2.5]
pa_labels = ["0.00", "0.50", "1.00", "1.50", "2.00", "2.50"]
pa_minor = [0.25, 0.75, 1.25, 1.75, 2.25]

FONT = "Liberation Sans"
GREEN = "#008000"
GRID = "#cccccc"

fig = go.Figure()


def comb(t, up, low):
    # up and down stroke at each sample, so the trace looks like the dense waveform
    xs, ys = [], []
    for ti, u, l in zip(t, up, low):
        xs += [ti, ti]
        ys += [u, l]
    return xs, ys


def add_strokes(name, t, up, low, color, width, ax):
    xs, ys = comb(t, up, low)
    fig.add_trace(go.Scatter(
        x=xs, y=ys, name=name, mode="lines", line=dict(color=color, width=width, simplify=False),
        cliponaxis=False, xaxis="x" + ax, yaxis="y" + ax))


def add_core(core, color, ax):
    fig.add_trace(go.Scatter(
        x=core_time_ms + core_time_ms[::-1], y=core + [-v for v in core[::-1]], mode="lines",
        line=dict(width=0), fill="toself", fillcolor=color, xaxis="x" + ax, yaxis="y" + ax, hoverinfo="skip"))


def add_spec(name, f, a, color, width, ax):
    fig.add_trace(go.Scatter(
        x=f, y=a, name=name, mode="lines", line=dict(color=color, width=width, simplify=False),
        cliponaxis=False, xaxis="x" + ax, yaxis="y" + ax))


def set_axes(ax, box, xr, yr, yticks, ylabels, yminor, xticks=None, xminor=None, tick_color="black",
             major=33, minor=20, standoff=22):
    left, right, top, bottom = box
    suffix = ax if ax != "1" else ""
    xa = dict(domain=[left / W, right / W], range=xr, anchor="y" + ax, fixedrange=True, showgrid=False,
              zeroline=False, automargin=False)
    if xticks:
        xa.update(showline=True, linecolor="black", linewidth=1, ticks="outside", ticklen=34, tickwidth=1,
                  tickcolor="black", tickmode="array", tickvals=xticks, ticktext=[str(v) for v in xticks],
                  tickfont=dict(family=FONT, size=61, color="black"), ticklabelstandoff=19,
                  minor=dict(ticks="outside", ticklen=21, tickwidth=1, tickcolor="black",
                             tickmode="array", tickvals=xminor))
    else:
        xa.update(visible=False)
    ya = dict(domain=[1 - bottom / H, 1 - top / H], range=yr, anchor="x" + ax, fixedrange=True, zeroline=False,
              automargin=False, showline=True, linecolor="black", linewidth=1, showgrid=True, gridcolor=GRID,
              gridwidth=1, ticks="outside", ticklen=major, tickwidth=1, tickcolor="black", tickmode="array",
              tickvals=yticks, ticktext=ylabels, ticklabelstandoff=standoff,
              tickfont=dict(family=FONT, size=61, color=tick_color))
    if yminor:
        ya["minor"] = dict(ticks="outside", ticklen=minor, tickwidth=1, tickcolor="black",
                           tickmode="array", tickvals=yminor)
    fig.update_layout({"xaxis" + suffix: xa, "yaxis" + suffix: ya})


def label(text, x, y, size, color="black", angle=0, anchor="center"):
    fig.add_annotation(text=text, x=x / W, y=1 - y / H, xref="paper", yref="paper", showarrow=False, textangle=angle,
                       xanchor=anchor, yanchor="middle", align="left", font=dict(family=FONT, size=size, color=color))


def rounded_box(x0, y0, x1, y1, r, line_color, line_width):
    fx = lambda v: v / W
    fy = lambda v: 1 - v / H
    path = (f"M {fx(x0 + r)} {fy(y0)} L {fx(x1 - r)} {fy(y0)} "
            f"Q {fx(x1)} {fy(y0)} {fx(x1)} {fy(y0 + r)} L {fx(x1)} {fy(y1 - r)} "
            f"Q {fx(x1)} {fy(y1)} {fx(x1 - r)} {fy(y1)} L {fx(x0 + r)} {fy(y1)} "
            f"Q {fx(x0)} {fy(y1)} {fx(x0)} {fy(y1 - r)} L {fx(x0)} {fy(y0 + r)} "
            f"Q {fx(x0)} {fy(y0)} {fx(x0 + r)} {fy(y0)} Z")
    fig.add_shape(type="path", path=path, xref="paper", yref="paper", fillcolor="#e5e5e5",
                  line=dict(color=line_color, width=line_width), layer="above")


# time histories
for ax, reds, blacks, blues in [
    ("", (vert_red_up, vert_red_low, vert_red_mid), (vert_black_up, vert_black_low, vert_black_mid, vert_black_core),
     (vert_blue_up, vert_blue_low, vert_blue_mid)),
    ("2", (long_red_up, long_red_low, long_red_mid), (long_black_up, long_black_low, long_black_mid, long_black_core),
     (long_blue_up, long_blue_low, long_blue_mid)),
    ("3", (trans_red_up, trans_red_low, trans_red_mid),
     (trans_black_up, trans_black_low, trans_black_mid, trans_black_core),
     (trans_blue_up, trans_blue_low, trans_blue_mid)),
]:
    add_strokes("sensor on the floor", mid_time_ms, reds[2], [-v for v in reds[2]], "#ff0000", 8, ax)
    add_strokes("sensor on the floor", time_ms, reds[0], reds[1], "#ff0000", 8, ax)
    add_core(blacks[3], "#000000", ax)
    add_strokes("sensor on the mat", mid_time_ms, blacks[2], [-v for v in blacks[2]], "#000000", 3.5, ax)
    add_strokes("sensor on the mat", time_ms, blacks[0], blacks[1], "#000000", 3.5, ax)
    add_strokes("suspended sensor", blue_mid_time_ms, blues[2], [-v for v in blues[2]], "#0000ff", 2, ax)
    add_strokes("suspended sensor", blue_time_ms, blues[0], blues[1], "#0000ff", 2, ax)
add_strokes("airblast", mid_time_ms, air_mid, [-v for v in air_mid], GREEN, 9, "4")
add_strokes("airblast", time_ms, air_up, air_low, GREEN, 9, "4")

# spectra
for ax, spec in [
    ("5", (spec_v_black_f, spec_v_black, spec_v_red_f, spec_v_red, spec_v_blue)),
    ("6", (spec_l_black_f, spec_l_black, spec_l_red_f, spec_l_red, spec_l_blue)),
    ("7", (spec_t_black_f, spec_t_black, spec_t_red_f, spec_t_red, spec_t_blue)),
]:
    add_spec("sensor on the mat", spec[0], spec[1], "#000000", 8, ax)
    add_spec("sensor on the floor", spec[2], spec[3], "#ff0000", 7.5, ax)
    add_spec("suspended sensor", spec_blue_f, spec[4], "#0000ff", 1.5, ax)
add_spec("airblast", spec_air_f, spec_air, GREEN, 1.5, "8")

set_axes("1", (311, 2414, 60, 749), [0, 5000], [-0.5, 0.5], ppv_ticks, ppv_labels, ppv_minor)
set_axes("2", (311, 2414, 835, 1523), [0, 5000], [-0.5, 0.5], ppv_ticks, ppv_labels, ppv_minor)
set_axes("3", (311, 2414, 1593, 2282), [0, 5000], [-0.5, 0.5], ppv_ticks, ppv_labels, ppv_minor)
set_axes("4", (306, 2410, 2372, 2925), [0, 5000], [-30, 30], air_ticks, air_labels, None, time_ticks, time_minor,
         tick_color=GREEN, major=20, standoff=24)
set_axes("5", (2726, 3560, 48, 736), [0, 1000], [0, 0.03], amp3_ticks, amp3_labels, amp3_minor, standoff=27)
set_axes("6", (2727, 3561, 816, 1505), [0, 1000], [0, 0.03], amp3_ticks, amp3_labels, amp3_minor, standoff=27)
set_axes("7", (2724, 3557, 1597, 2287), [0, 1000], [0, 0.05], amp5_ticks, amp5_labels, amp5_minor, standoff=27)
set_axes("8", (2732, 3564, 2378, 2943), [0, 1000], [0, 2.5], pa_ticks, pa_labels, pa_minor, freq_ticks, freq_minor,
         tick_color=GREEN, major=35, minor=22, standoff=24)

# axis titles and panel names
label("PPV, mm/s", 37, 1173, 58, angle=-90)
label("pressure, Pa", 100, 2646, 58, angle=-90)
label("amplitude, mm/s", 2469, 390, 58, angle=-90)
label("amplitude, mm/s", 2469, 1157, 58, angle=-90)
label("amplitude, mm/s", 2465, 1939, 58, angle=-90)
label("amplitude, Pa", 2475, 2658, 58, angle=-90)
label("time, ms", 1350, 3098, 58)
label("freuquency, Hz", 3132, 3113, 58)
label("vertical", 2410, 696, 67, anchor="right")
label("longitudinal", 2408, 1481, 69, anchor="right")
label("transverse", 2421, 2232, 68, anchor="right")
label("airblast", 2400, 2427, 58, color=GREEN, anchor="right")

# station box
rounded_box(1897, 74, 2450, 242, 48, "#c8c8c8", 1)
label("<b>St. 1, <span style='color:#0000ff'>St. 2</span>, <span style='color:#ff0000'>St. 3</span>, "
      "<span style='color:#008000'>St. M4</span></b>", 1916, 134, 48, anchor="left")
label("<b>Test No. I</b>", 1916, 188, 48, anchor="left")

# sensor key
rounded_box(1795, 832, 2401, 1084, 40, "#b3b3b3", 3)
for y, text, color, width in [(891, "sensor on the mat", "#000000", 2.5),
                              (958, "sensor on the floor", "#ff0000", 7),
                              (1025, "suspended sensor", "#0000ff", 1.5)]:
    fig.add_shape(type="line", xref="paper", yref="paper", x0=1830 / W, x1=1969 / W, y0=1 - y / H, y1=1 - y / H,
                  line=dict(color=color, width=width), layer="above")
    label(text, 2005, y + 2, 43, color=color, anchor="left")

fig.update_layout(width=W, height=H, autosize=False, margin=dict(l=0, r=0, t=0, b=0, pad=0),
                  paper_bgcolor="white", plot_bgcolor="white", showlegend=False,
                  font=dict(family=FONT, color="black"))

# the browser's default body margin would push the whole figure off by 8 px
fig.write_html("out.html", config={"displayModeBar": False}, post_script="document.body.style.margin='0';")
